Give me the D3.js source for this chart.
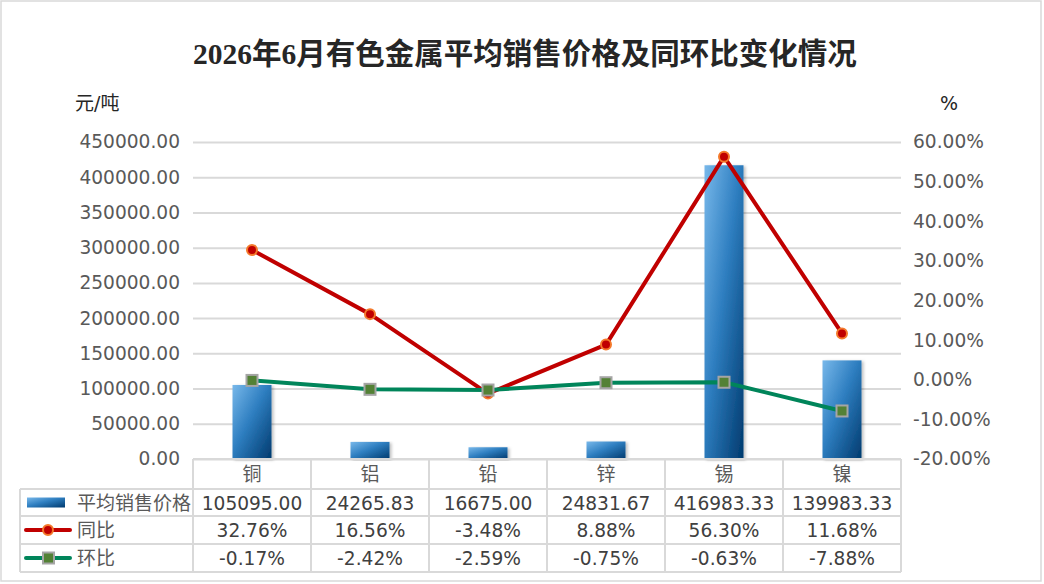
<!DOCTYPE html>
<html>
<head>
<meta charset="utf-8">
<script src="https://cdn.jsdelivr.net/npm/d3@7"></script>
<style>
  body { margin: 0; background: #fff; }
  text { font-family: "DejaVu Sans", "Noto Sans CJK SC", sans-serif; }
</style>
</head>
<body>
<svg id="chart"></svg>
<script>
// data
const categories = ['铜', '铝', '铅', '锌', '锡', '镍'];
const avgPrice = [105095.00, 24265.83, 16675.00, 24831.67, 416983.33, 139983.33];
const yoy = [32.76, 16.56, -3.48, 8.88, 56.30, 11.68];
const mom = [-0.17, -2.42, -2.59, -0.75, -0.63, -7.88];
const seriesNames = ['平均销售价格', '同比', '环比'];
const leftTicks = [0, 50000, 100000, 150000, 200000, 250000, 300000, 350000, 400000, 450000];
const rightTicks = [-20, -10, 0, 10, 20, 30, 40, 50, 60];

const W = 1044, H = 584;
const plot = {left: 193, right: 901, top: 142, bottom: 459};
const rowH = [30, 27, 28, 28];
const legendLeft = 20;
const gridColor = '#d9d9d9';
const numFont = '18.6px';

const svg = d3.select('#chart').attr('width', W).attr('height', H);

const defs = svg.append('defs');
const grad = defs.append('linearGradient')
    .attr('id', 'barGrad')
    .attr('x1', 0).attr('y1', 0).attr('x2', 1).attr('y2', 1);
grad.append('stop').attr('offset', '0%').attr('stop-color', '#78b8ea');
grad.append('stop').attr('offset', '45%').attr('stop-color', '#2f7fc1');
grad.append('stop').attr('offset', '100%').attr('stop-color', '#003a6e');

const shadow = defs.append('filter').attr('id', 'shadow')
    .attr('x', '-20%').attr('y', '-5%').attr('width', '150%').attr('height', '115%');
shadow.append('feDropShadow')
    .attr('dx', 2).attr('dy', 1).attr('stdDeviation', 1.5)
    .attr('flood-color', '#000').attr('flood-opacity', 0.25);

// outer border
svg.append('rect')
    .attr('x', 1).attr('y', 1).attr('width', 1040).attr('height', 580)
    .attr('fill', '#fff').attr('stroke', gridColor).attr('stroke-width', 1.5);

// title
svg.append('text')
    .attr('x', 525).attr('y', 64)
    .attr('text-anchor', 'middle')
    .style('font-family', '"Liberation Serif", "Noto Sans CJK SC", serif')
    .style('font-weight', 'bold')
    .style('font-size', '29.5px')
    .attr('fill', '#262626')
    .text('2026年6月有色金属平均销售价格及同环比变化情况');

// scales
const x = d3.scaleBand().domain(categories).range([plot.left, plot.right]);
const y = d3.scaleLinear().domain([0, 450000]).range([plot.bottom, plot.top]);
const y2 = d3.scaleLinear().domain([-20, 60]).range([plot.bottom, plot.top]);

// grid
svg.append('g')
    .attr('transform', `translate(${plot.left},0)`)
    .call(d3.axisLeft(y).tickValues(leftTicks).tickSize(-(plot.right - plot.left)).tickFormat(''))
    .call(g => g.select('.domain').remove())
    .call(g => g.selectAll('line').attr('stroke', gridColor).attr('stroke-width', 2));

// left axis labels
svg.append('g')
    .attr('transform', `translate(180,0)`)
    .call(d3.axisLeft(y).tickValues(leftTicks).tickSize(0).tickPadding(0).tickFormat(d3.format('.2f')))
    .call(g => g.select('.domain').remove())
    .call(g => g.selectAll('text')
        .style('font-size', numFont).attr('fill', '#595959')
        .style('font-family', '"DejaVu Sans", sans-serif'));

// right axis labels
svg.append('g')
    .attr('transform', `translate(913,0)`)
    .call(d3.axisRight(y2).tickValues(rightTicks).tickSize(0).tickPadding(0).tickFormat(d => d.toFixed(2) + '%'))
    .call(g => g.select('.domain').remove())
    .call(g => g.selectAll('text')
        .style('font-size', numFont).attr('fill', '#595959')
        .style('font-family', '"DejaVu Sans", sans-serif'));

// unit labels
svg.append('text').attr('x', 75).attr('y', 110)
    .style('font-size', '19px').attr('fill', '#262626').text('元/吨');
svg.append('text').attr('x', 940).attr('y', 110)
    .style('font-size', '19px').attr('fill', '#262626').text('%');

// bars
const barW = 39;
svg.append('g').selectAll('rect')
    .data(avgPrice)
    .join('rect')
    .attr('x', (d, i) => x(categories[i]) + x.bandwidth() / 2 - barW / 2)
    .attr('y', d => y(d))
    .attr('width', barW)
    .attr('height', d => y(0) - y(d))
    .attr('fill', 'url(#barGrad)')
    .attr('filter', 'url(#shadow)');

// lines
const lineOf = arr => d3.line()
    .x((d, i) => x(categories[i]) + x.bandwidth() / 2)
    .y(d => y2(d))(arr);

svg.append('path').attr('d', lineOf(yoy))
    .attr('fill', 'none').attr('stroke', '#c00000').attr('stroke-width', 4)
    .attr('stroke-linejoin', 'round');
svg.append('g').selectAll('circle')
    .data(yoy)
    .join('circle')
    .attr('cx', (d, i) => x(categories[i]) + x.bandwidth() / 2)
    .attr('cy', d => y2(d))
    .attr('r', 5)
    .attr('fill', '#c00000').attr('stroke', '#f4792b').attr('stroke-width', 2);

svg.append('path').attr('d', lineOf(mom))
    .attr('fill', 'none').attr('stroke', '#00855a').attr('stroke-width', 4)
    .attr('stroke-linejoin', 'round');
svg.append('g').selectAll('rect')
    .data(mom)
    .join('rect')
    .attr('x', (d, i) => x(categories[i]) + x.bandwidth() / 2 - 5.5)
    .attr('y', d => y2(d) - 5.5)
    .attr('width', 11).attr('height', 11)
    .attr('fill', '#538135').attr('stroke', '#a5a5a5').attr('stroke-width', 2);

// data table
const rowTop = [plot.bottom];
rowH.forEach(h => rowTop.push(rowTop[rowTop.length - 1] + h));
const table = svg.append('g');
const tline = (x1, y1, x2, y2_) => table.append('line')
    .attr('x1', x1).attr('y1', y1).attr('x2', x2).attr('y2', y2_)
    .attr('stroke', gridColor).attr('stroke-width', 2);

tline(plot.left, rowTop[0], plot.right, rowTop[0]);
for (let r = 1; r < rowTop.length; r++) tline(legendLeft, rowTop[r], plot.right, rowTop[r]);
tline(legendLeft, rowTop[1], legendLeft, rowTop[4]);
[plot.left].concat(categories.map(c => x(c) + x.bandwidth())).forEach(cx => tline(cx, rowTop[0], cx, rowTop[4]));

// category row
table.selectAll('.cat')
    .data(categories)
    .join('text')
    .attr('class', 'cat')
    .attr('x', d => x(d) + x.bandwidth() / 2)
    .attr('y', rowTop[0] + 22)
    .attr('text-anchor', 'middle')
    .style('font-size', '19px').attr('fill', '#595959')
    .text(d => d);

const rows = [
    avgPrice.map(d => d.toFixed(2)),
    yoy.map(d => d.toFixed(2) + '%'),
    mom.map(d => d.toFixed(2) + '%')
];
rows.forEach((vals, r) => {
    table.selectAll('.row' + r)
        .data(vals)
        .join('text')
        .attr('class', 'row' + r)
        .attr('x', (d, i) => x(categories[i]) + x.bandwidth() / 2)
        .attr('y', rowTop[r + 1] + rowH[r + 1] / 2 + 7)
        .attr('text-anchor', 'middle')
        .style('font-size', numFont).attr('fill', '#404040')
        .style('font-family', '"DejaVu Sans", sans-serif')
        .text(d => d);
});

// legend keys in the table
const keyY = r => rowTop[r + 1] + rowH[r + 1] / 2;
table.append('rect')
    .attr('x', 27).attr('y', keyY(0) - 5).attr('width', 38).attr('height', 10)
    .attr('fill', 'url(#barGrad)');
table.append('line')
    .attr('x1', 26).attr('x2', 70).attr('y1', keyY(1)).attr('y2', keyY(1))
    .attr('stroke', '#c00000').attr('stroke-width', 4).attr('stroke-linecap', 'round');
table.append('circle')
    .attr('cx', 48).attr('cy', keyY(1)).attr('r', 5)
    .attr('fill', '#c00000').attr('stroke', '#f4792b').attr('stroke-width', 2);
table.append('line')
    .attr('x1', 26).attr('x2', 70).attr('y1', keyY(2)).attr('y2', keyY(2))
    .attr('stroke', '#00855a').attr('stroke-width', 4).attr('stroke-linecap', 'round');
table.append('rect')
    .attr('x', 43).attr('y', keyY(2) - 5.5).attr('width', 11).attr('height', 11)
    .attr('fill', '#538135').attr('stroke', '#a5a5a5').attr('stroke-width', 2);

table.selectAll('.lname')
    .data(seriesNames)
    .join('text')
    .attr('class', 'lname')
    .attr('x', 77)
    .attr('y', (d, i) => keyY(i) + 7)
    .style('font-size', '19px').attr('fill', '#595959')
    .text(d => d);
</script>
</body>
</html>
